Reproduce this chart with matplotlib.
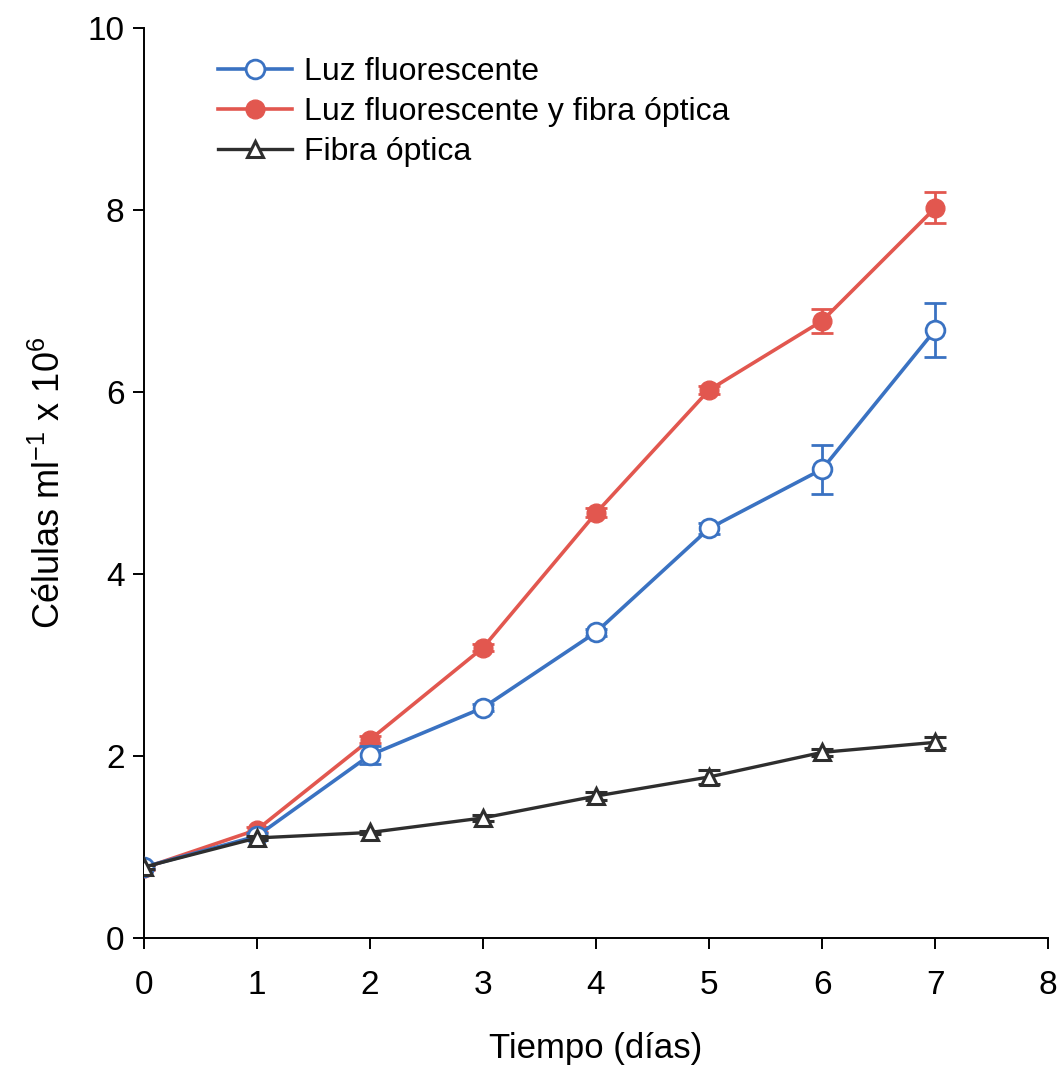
import matplotlib
matplotlib.use("Agg")
import matplotlib.pyplot as plt
from matplotlib.lines import Line2D

plt.rcParams['font.family'] = ['Liberation Sans', 'DejaVu Sans']
plt.rcParams['mathtext.fontset'] = 'custom'
plt.rcParams['mathtext.rm'] = 'Liberation Sans'

days = [0, 1, 2, 3, 4, 5, 6, 7]
fluor = [0.78, 1.12, 2.01, 2.53, 3.36, 4.50, 5.15, 6.68]
fluor_err = [0.02, 0.03, 0.10, 0.04, 0.04, 0.06, 0.27, 0.30]
mixed = [0.77, 1.19, 2.18, 3.19, 4.67, 6.02, 6.78, 8.02]
mixed_err = [0.02, 0.03, 0.04, 0.04, 0.05, 0.04, 0.13, 0.17]
fibra = [0.78, 1.10, 1.16, 1.32, 1.56, 1.77, 2.04, 2.15]
fibra_err = [0.02, 0.02, 0.02, 0.03, 0.04, 0.08, 0.04, 0.06]

xticks = [0, 1, 2, 3, 4, 5, 6, 7, 8]
yticks = [0, 2, 4, 6, 8, 10]

blue = '#3a72c2'
red = '#e2574f'
black = '#2e2e2e'

fig = plt.figure(figsize=(10.62, 10.66), dpi=100)
ax = fig.add_axes([0.1355, 0.120, 0.8515, 0.854])

ax.errorbar(days, mixed, yerr=mixed_err, color=red, lw=2.6, marker='o', ms=13.5,
            mfc=red, mec=red, capsize=8, capthick=2, elinewidth=2, zorder=3)
ax.errorbar(days, fluor, yerr=fluor_err, color=blue, lw=2.6, marker='o', ms=13.5,
            mfc='white', mec=blue, mew=2, capsize=8, capthick=2, elinewidth=2, zorder=4)
ax.errorbar(days, fibra, yerr=fibra_err, color=black, lw=2.4, marker='^', ms=12,
            mfc='white', mec=black, mew=2.2, capsize=8, capthick=2, elinewidth=2, zorder=5)

ax.set_xlim(0, 8)
ax.set_ylim(0, 10)
ax.set_xticks(xticks)
ax.set_yticks(yticks)
ax.tick_params(axis='both', direction='out', length=8, width=1.4, labelsize=24)
ax.tick_params(axis='x', pad=15)
ax.tick_params(axis='y', pad=6)
for s in ['top', 'right']:
    ax.spines[s].set_visible(False)
for s in ['left', 'bottom']:
    ax.spines[s].set_linewidth(1.4)

ax.set_xlabel('Tiempo (días)', fontsize=25, labelpad=22)
ax.set_ylabel('Células ml$^{-1}$ x 10$^{6}$', fontsize=26, labelpad=14)

handles = [
    Line2D([], [], color=blue, lw=2.6, marker='o', ms=13.5, mfc='white', mec=blue, mew=2),
    Line2D([], [], color=red, lw=2.6, marker='o', ms=13.5, mfc=red, mec=red),
    Line2D([], [], color=black, lw=2.4, marker='^', ms=12, mfc='white', mec=black, mew=2.2),
]
labels = ['Luz fluorescente', 'Luz fluorescente y fibra óptica', 'Fibra óptica']
ax.legend(handles, labels, loc='upper left', bbox_to_anchor=(0.068, 0.982), frameon=False,
          fontsize=23, handlelength=2.3, handletextpad=0.4, labelspacing=0.32,
          borderaxespad=0)

fig.savefig('out.png', dpi=100)
